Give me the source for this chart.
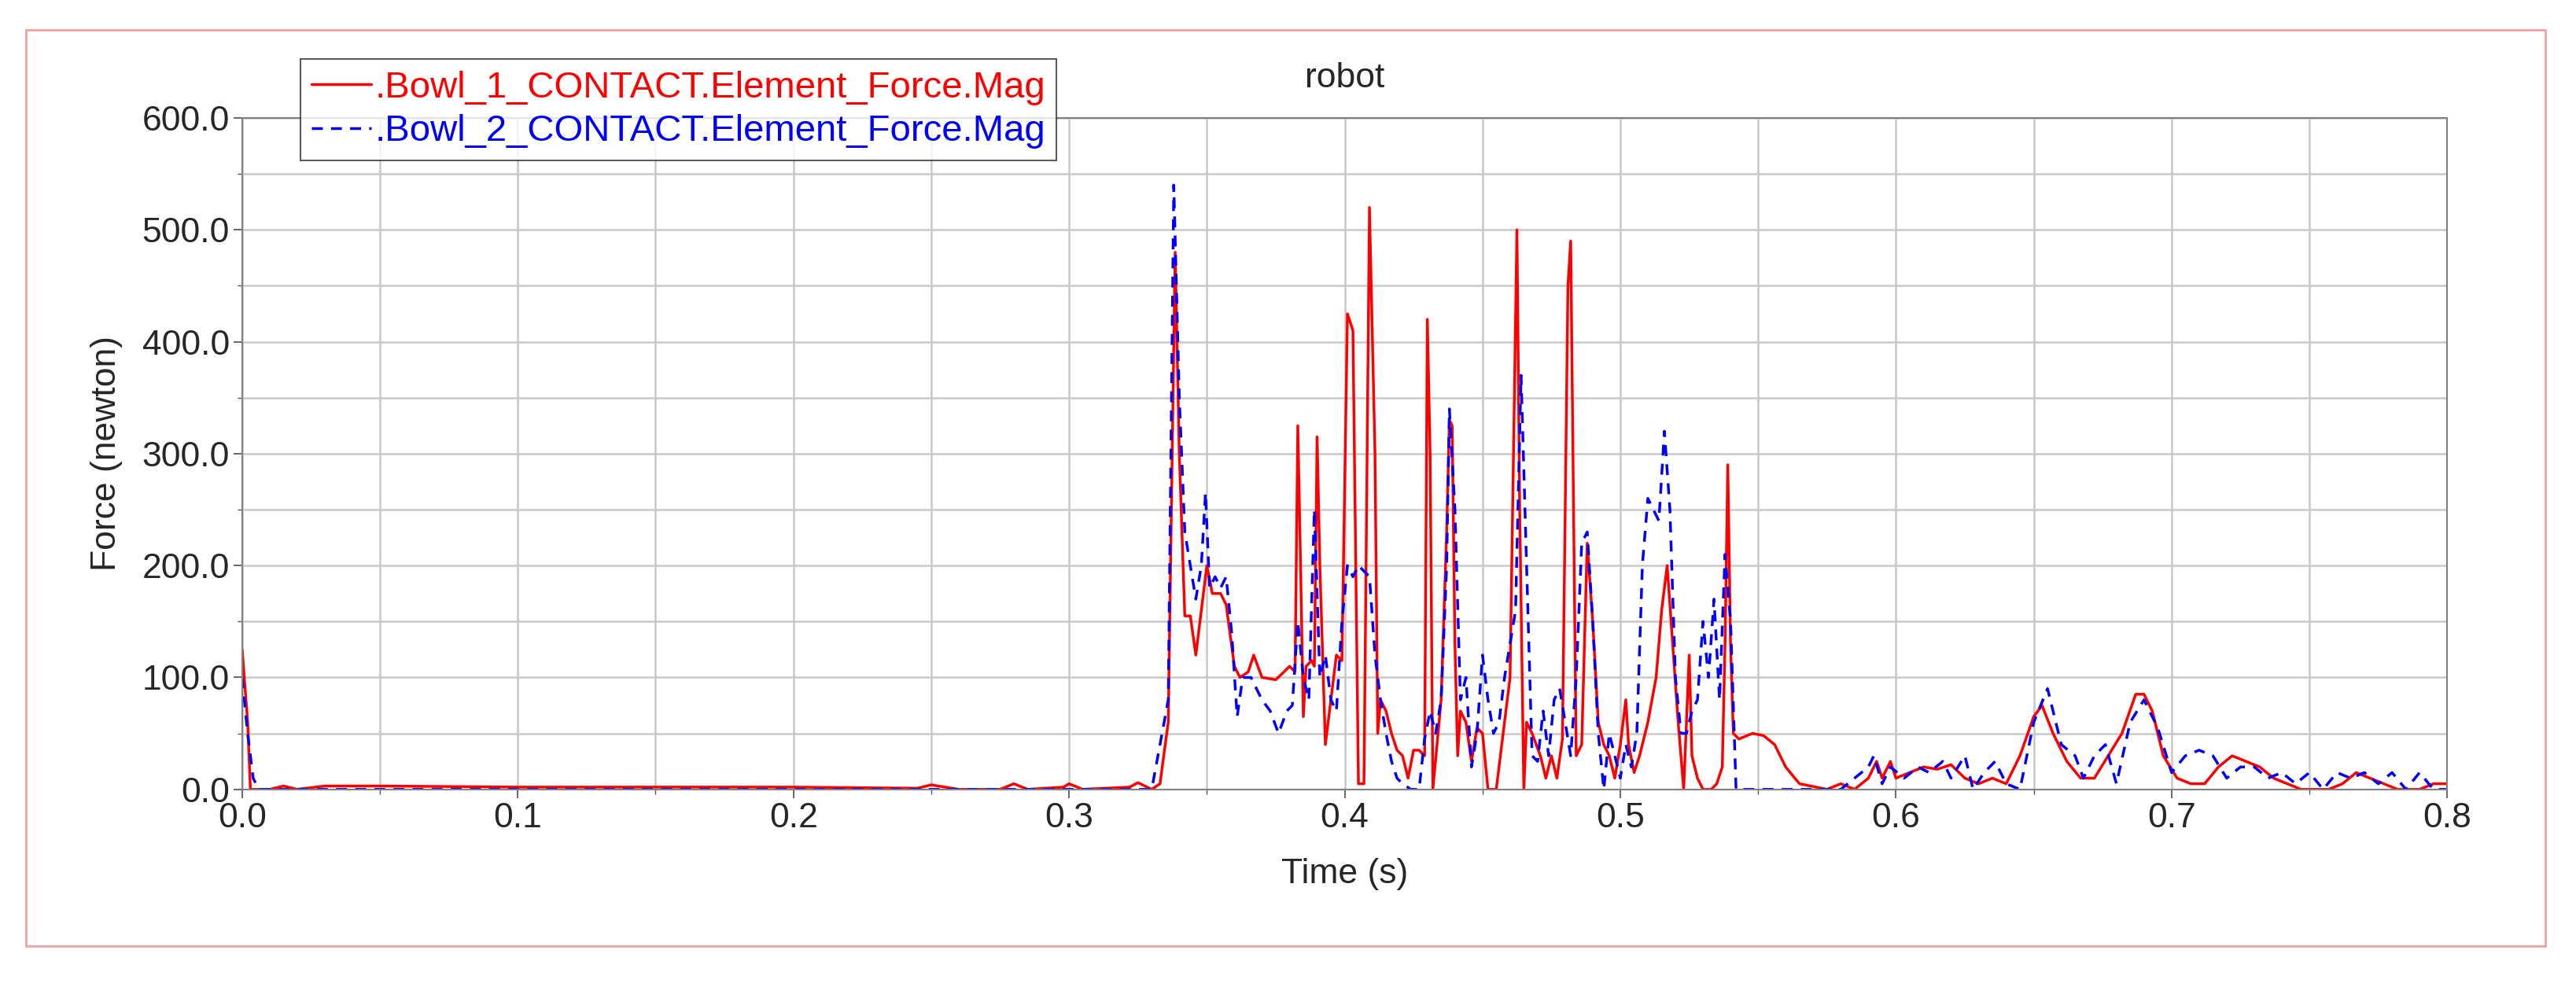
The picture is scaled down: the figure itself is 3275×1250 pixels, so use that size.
import numpy as np, pandas as pd, matplotlib
matplotlib.use("Agg")
import matplotlib.pyplot as plt, seaborn as sns
from matplotlib.patches import Rectangle

sns.set_theme(style="white")
plt.rcParams['font.family'] = ['Liberation Sans', 'DejaVu Sans']

t1 = [0,0.002,0.003,0.01,0.015,0.02,0.03,0.05,0.1,0.2,0.245,0.25,0.26,0.275,0.28,0.285,0.298,0.3,0.305,0.322,0.325,0.33,0.333,0.336,0.3385,0.340,0.342,0.344,0.346,0.348,0.350,0.352,0.355,0.357,0.360,0.362,0.365,0.367,0.370,0.375,0.378,0.380,0.382,0.383,0.384,0.385,0.386,0.388,0.389,0.390,0.391,0.393,0.395,0.397,0.399,0.401,0.403,0.405,0.407,0.409,0.411,0.412,0.413,0.415,0.417,0.419,0.421,0.423,0.425,0.427,0.429,0.430,0.431,0.432,0.435,0.437,0.438,0.439,0.440,0.441,0.442,0.444,0.446,0.448,0.450,0.452,0.455,0.457,0.460,0.4625,0.4635,0.465,0.466,0.468,0.471,0.473,0.475,0.477,0.479,0.481,0.482,0.484,0.486,0.488,0.490,0.492,0.494,0.496,0.498,0.500,0.502,0.503,0.505,0.507,0.510,0.513,0.515,0.517,0.519,0.521,0.523,0.525,0.526,0.528,0.530,0.533,0.535,0.537,0.538,0.539,0.540,0.541,0.543,0.548,0.552,0.556,0.560,0.565,0.575,0.580,0.585,0.590,0.593,0.595,0.598,0.600,0.605,0.61,0.615,0.62,0.625,0.63,0.635,0.64,0.645,0.65,0.653,0.657,0.662,0.667,0.672,0.677,0.682,0.687,0.690,0.693,0.697,0.702,0.707,0.712,0.717,0.722,0.727,0.732,0.737,0.742,0.747,0.757,0.762,0.767,0.772,0.777,0.782,0.79,0.795,0.8]
f1 = [125,60,0,0,3,0,3,3,2,2,1,4,0,0,5,0,2,5,0,2,6,0,5,60,480,300,155,155,120,160,200,175,175,165,110,100,105,120,100,98,105,110,105,325,200,65,110,115,110,315,200,40,80,120,115,425,410,5,5,520,300,50,80,70,50,35,30,10,35,35,30,420,300,0,80,230,330,325,130,30,70,60,25,55,50,0,0,40,100,500,250,0,60,50,30,10,30,10,45,450,490,30,40,220,150,60,40,30,10,40,80,40,15,30,60,100,160,200,130,60,0,120,30,10,0,0,5,20,130,290,130,50,45,50,48,40,20,5,0,5,0,10,25,10,25,10,15,20,18,22,10,5,10,5,30,65,75,50,25,10,10,30,50,85,85,70,30,10,5,5,20,30,25,20,10,5,0,0,5,15,10,5,0,0,5,5]

t2 = [0,0.002,0.004,0.006,0.33,0.336,0.338,0.340,0.342,0.344,0.346,0.348,0.3495,0.351,0.353,0.355,0.357,0.359,0.361,0.363,0.366,0.370,0.373,0.376,0.379,0.381,0.383,0.385,0.387,0.389,0.391,0.393,0.395,0.397,0.399,0.401,0.403,0.405,0.407,0.409,0.411,0.413,0.415,0.417,0.419,0.421,0.424,0.427,0.429,0.431,0.433,0.435,0.437,0.438,0.440,0.442,0.444,0.446,0.448,0.450,0.452,0.454,0.456,0.458,0.460,0.462,0.464,0.466,0.468,0.470,0.472,0.474,0.476,0.478,0.480,0.482,0.484,0.486,0.488,0.490,0.492,0.494,0.496,0.498,0.500,0.502,0.504,0.506,0.508,0.510,0.512,0.514,0.516,0.518,0.520,0.522,0.524,0.526,0.528,0.530,0.532,0.534,0.536,0.538,0.540,0.542,0.58,0.59,0.592,0.595,0.598,0.603,0.608,0.612,0.617,0.62,0.625,0.628,0.632,0.636,0.64,0.645,0.65,0.655,0.66,0.665,0.668,0.672,0.676,0.68,0.685,0.69,0.695,0.70,0.705,0.71,0.715,0.72,0.725,0.73,0.735,0.74,0.745,0.75,0.755,0.76,0.765,0.77,0.775,0.78,0.785,0.79,0.795,0.8]
f2 = [100,50,10,0,0,80,540,350,230,200,170,200,265,180,190,180,190,140,65,100,100,80,70,50,70,75,150,100,80,250,100,120,80,70,150,200,190,200,195,190,120,80,50,25,10,5,0,0,45,70,50,80,200,340,250,80,100,20,50,120,80,50,60,100,130,160,370,200,30,25,70,30,80,90,60,30,100,220,230,150,50,0,50,30,10,40,20,50,200,260,250,240,320,250,100,50,50,70,80,150,100,170,80,210,150,0,0,20,30,5,20,10,20,15,25,10,30,0,15,25,5,0,60,90,40,30,10,30,40,5,60,80,55,15,30,35,30,10,20,20,10,15,5,15,0,15,10,15,5,15,0,15,0,0]

label1 = ".Bowl_1_CONTACT.Element_Force.Mag"
label2 = ".Bowl_2_CONTACT.Element_Force.Mag"

fig = plt.figure(figsize=(32.75, 12.5), dpi=100)
fig.patches.append(Rectangle((0.010, 0.038), 0.978, 0.932, transform=fig.transFigure,
                             fill=False, edgecolor='#f4a0a0', lw=2))
ax = fig.add_axes([0.094, 0.197, 0.856, 0.683])
sns.lineplot(x=t1, y=f1, ax=ax, color='red', lw=2.5, label=label1, estimator=None, sort=False)
sns.lineplot(x=t2, y=f2, ax=ax, color='blue', lw=2.5, label=label2, estimator=None, sort=False)
ax.lines[1].set_linestyle((0, (4, 3)))
ax.set_xlim(0, 0.8); ax.set_ylim(0, 600)
ax.set_xticks(np.arange(0, 0.81, 0.1))
ax.set_xticklabels([f"{v:.1f}" for v in np.arange(0, 0.81, 0.1)])
ax.set_xticks(np.arange(0, 0.81, 0.05), minor=True)
ax.set_yticks(np.arange(0, 601, 100))
ax.set_yticklabels([f"{v:.1f}" for v in range(0, 601, 100)])
ax.set_yticks(np.arange(0, 601, 50), minor=True)
ax.grid(True, which='both', color='#c8c8c8', lw=1.8)
ax.tick_params(labelsize=32, length=8, which='major', direction='out', left=True, bottom=True, color='#555555')
ax.tick_params(which='minor', length=4, left=True, bottom=True, color='#555555')
for s in ax.spines.values():
    s.set_color('#808080'); s.set_linewidth(1.5)
ax.set_xlabel("Time (s)", fontsize=32, labelpad=22)
ax.set_ylabel("Force (newton)", fontsize=32, labelpad=18)
ax.set_title("robot", fontsize=32, pad=28)
leg = ax.legend(loc='upper left', bbox_to_anchor=(0.018, 1.115), fontsize=34, frameon=True,
                fancybox=False, edgecolor='#333333', handlelength=1.6, handletextpad=0.1,
                borderpad=0.3, labelspacing=0.25)
leg.get_frame().set_linewidth(1.5)
for txt, c in zip(leg.get_texts(), ['red', 'blue']):
    txt.set_color(c)
fig.savefig("out.png", dpi=100)
